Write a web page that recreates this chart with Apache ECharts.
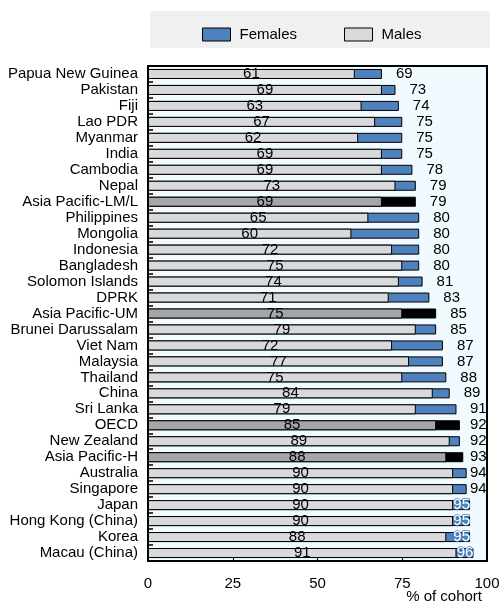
<!DOCTYPE html>
<html><head><meta charset="utf-8">
<script src="https://cdn.jsdelivr.net/npm/echarts@6/dist/echarts.min.js"></script>
<style>html,body{margin:0;padding:0;background:#fff}#c{width:501px;height:604px}</style>
</head><body><div id="c"></div>
<script>
const categories = ["Papua New Guinea","Pakistan","Fiji","Lao PDR","Myanmar","India","Cambodia","Nepal","Asia Pacific-LM/L","Philippines","Mongolia","Indonesia","Bangladesh","Solomon Islands","DPRK","Asia Pacific-UM","Brunei Darussalam","Viet Nam","Malaysia","Thailand","China","Sri Lanka","OECD","New Zealand","Asia Pacific-H","Australia","Singapore","Japan","Hong Kong (China)","Korea","Macau (China)"];
const males =   [61,69,63,67,62,69,69,73,69,65,60,72,75,74,71,75,79,72,77,75,84,79,85,89,88,90,90,90,90,88,91];
const females = [69,73,74,75,75,75,78,79,79,80,80,80,80,81,83,85,85,87,87,88,89,91,92,92,93,94,94,95,95,95,96];
const aggregates = ["Asia Pacific-LM/L","Asia Pacific-UM","OECD","Asia Pacific-H"];
const xTicks = [0,25,50,75,100];
const xAxisTitle = "% of cohort";

const FONT = "Liberation Sans";
const BLUE = "#4f81bd", LGRAY = "#d9d9d9", DGRAY = "#a6a6a6", BLACK = "#000000";

const chart = echarts.init(document.getElementById('c'), null, {renderer:'canvas'});

function build(femLabels){
  const femData = females.map((v,i)=>{
    const agg = aggregates.includes(categories[i]);
    const d = {value:v, itemStyle:{color: agg?BLACK:BLUE}};
    if (femLabels) d.label = femLabels[i];
    return d;
  });
  const maleData = males.map((v,i)=>{
    const agg = aggregates.includes(categories[i]);
    return {value:v, itemStyle:{color: agg?DGRAY:LGRAY}};
  });
  return {
    animation:false,
    backgroundColor:'#fff',
    graphic:[
      {type:'rect', shape:{x:150,y:11,width:340,height:37}, style:{fill:'#f0f0f0'}, z:-1},
      {type:'text', x:482, y:589, style:{text:xAxisTitle, fontFamily:FONT, fontSize:15, fill:'#000', align:'right', verticalAlign:'top'}}
    ],
    legend:{
      left:197, top:22, itemWidth:28, itemHeight:13, itemGap:47, icon:'rect',
      textStyle:{fontFamily:FONT, fontSize:15, color:'#000', padding:[0,0,0,4]},
      data:[{name:'Females', itemStyle:{color:BLUE, borderColor:'#000', borderWidth:1}},
            {name:'Males', itemStyle:{color:LGRAY, borderColor:'#000', borderWidth:1}}]
    },
    grid:{left:148, right:14, top:66, bottom:43, containLabel:false, outerBoundsMode:'none',
          show:true, backgroundColor:'#f0faff', borderColor:'#000', borderWidth:2},
    xAxis:{
      type:'value', min:0, max:100, interval:25,
      axisLine:{show:false}, splitLine:{show:false},
      axisTick:{show:true, inside:true, length:5, lineStyle:{color:'#000'}},
      axisLabel:{fontFamily:FONT, fontSize:15, color:'#000', margin:15}
    },
    yAxis:{
      type:'category', data:categories, inverse:true,
      axisLine:{show:false},
      axisTick:{show:true, inside:true, length:5, interval:0, lineStyle:{color:'#000', width:1.5}},
      axisLabel:{fontFamily:FONT, fontSize:15, color:'#000', margin:10, lineHeight:15, interval:0}
    },
    series:[
      {name:'Females', type:'bar', data:femData, barWidth:10, barGap:'-100%',
       itemStyle:{borderColor:'#000', borderWidth:1},
       label:{show:true, position:'right', distance:14, fontFamily:FONT, fontSize:15, color:'#000'}},
      {name:'Males', type:'bar', data:maleData, barWidth:10, barGap:'-100%',
       itemStyle:{borderColor:'#000', borderWidth:1},
       label:{show:true, position:'inside', fontFamily:FONT, fontSize:15, color:'#000'}}
    ]
  };
}

chart.setOption(build(null));
const limit = chart.convertToPixel({xAxisIndex:0}, 0) + 322;
const femLabels = females.map(v=>{
  const end = chart.convertToPixel({xAxisIndex:0}, v);
  const left = Math.min(end + 14, limit);
  if (left < end + 1) {
    return {position:'insideRight', distance:0, color:'#fff', textBorderColor:BLUE, textBorderWidth:1.5};
  }
  return {position:'right', distance: left - end};
});
chart.setOption(build(femLabels));
</script></body></html>
